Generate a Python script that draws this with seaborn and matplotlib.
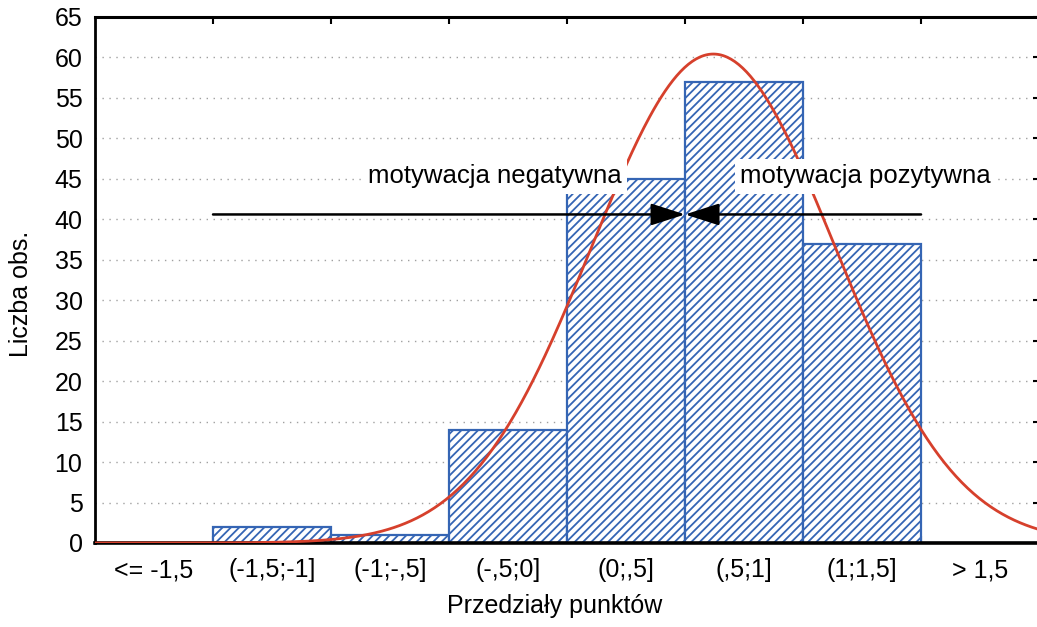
import numpy as np
import pandas as pd
import seaborn as sns
import matplotlib.pyplot as plt
from matplotlib.ticker import FixedLocator

# ---- data ----
categories = ["<= -1,5", "(-1,5;-1]", "(-1;-,5]", "(-,5;0]",
              "(0;,5]", "(,5;1]", "(1;1,5]", "> 1,5"]
counts = [0, 2, 1, 14, 45, 57, 37, 0]
bin_edges = [-2.0, -1.5, -1.0, -0.5, 0.0, 0.5, 1.0, 1.5, 2.0]
fit_mean = 0.62     # fitted normal curve parameters
fit_sd = 0.515
y_ticks = list(range(0, 70, 5))
arrow_y = 40.6
label_y = 45.3
label_neg = "motywacja negatywna"
label_pos = "motywacja pozytywna"

BLUE = "#3565b4"
RED = "#d6402c"

sns.set_theme(style="white")
plt.rcParams['font.family'] = ['Liberation Sans', 'DejaVu Sans']
plt.rcParams['hatch.color'] = BLUE
plt.rcParams['hatch.linewidth'] = 1.3

W, H = 1037, 627
fig = plt.figure(figsize=(W / 100, H / 100), dpi=100)
fig.patch.set_facecolor("white")
ax = fig.add_axes([95 / W, 1 - 543 / H, (W - 95) / W + 0.002, (543 - 17) / H])
ax.set_facecolor("white")

df = pd.DataFrame({"cat": categories, "n": counts})
sns.barplot(data=df, x="cat", y="n", order=categories, width=1.0,
            color="white", saturation=1, edgecolor=BLUE, linewidth=1.6, ax=ax)
for p in ax.patches:
    p.set_facecolor("white")
    p.set_edgecolor(BLUE)
    p.set_hatch("////")
    p.set_zorder(2)

# fitted normal curve scaled to counts
bw = bin_edges[1] - bin_edges[0]
n_total = sum(counts)
xs = np.linspace(bin_edges[0], bin_edges[-1] + 0.1, 500)
ys = n_total * bw / (fit_sd * np.sqrt(2 * np.pi)) * np.exp(-0.5 * ((xs - fit_mean) / fit_sd) ** 2)
pos = (xs - bin_edges[0]) / bw - 0.5
sns.lineplot(x=pos, y=ys, color=RED, lw=2.0, ax=ax, zorder=3, sort=False)

# arrows
mid = 4.5
for start in (0.5, 6.5):
    ax.annotate("", xy=(mid, arrow_y), xytext=(start, arrow_y),
                arrowprops=dict(arrowstyle="-|>,head_length=1.4,head_width=0.45",
                                color="black", lw=1.8, mutation_scale=15,
                                shrinkA=0, shrinkB=0), zorder=4)

bbox = dict(boxstyle="square,pad=0.2", facecolor="white", edgecolor="none")
ax.text(2.89, label_y, label_neg, ha="center", va="center", fontsize=18.5,
        color="black", bbox=bbox, zorder=5)
ax.text(6.03, label_y, label_pos, ha="center", va="center", fontsize=18.5,
        color="black", bbox=bbox, zorder=5)

# axes styling
ax.set_xlim(-0.5, 7.5)
ax.set_ylim(0, 65)
ax.set_yticks(y_ticks)
ax.set_yticklabels([str(t) for t in y_ticks], fontsize=18)
ax.set_xticks(range(len(categories)))
ax.set_xticklabels(categories, fontsize=18)
ax.xaxis.set_minor_locator(FixedLocator([i + 0.5 for i in range(len(categories) - 1)]))
ax.tick_params(axis="x", which="major", length=0, pad=11, colors="black")
ax.tick_params(axis="x", which="minor", length=5, width=1.5, direction="in",
               top=True, bottom=True, color="black")
ax.tick_params(axis="y", which="major", length=4, width=1.5, direction="in",
               left=False, right=True, pad=9, colors="black")
ax.tick_params(axis="y", labelleft=True, labelright=False)

ax.yaxis.grid(True, linestyle=(0, (1, 4)), color="#a0a0a0", lw=1.0)
ax.set_axisbelow(True)

for side in ("left", "top", "bottom"):
    ax.spines[side].set_visible(True)
    ax.spines[side].set_color("black")
ax.spines["left"].set_linewidth(2.0)
ax.spines["top"].set_linewidth(2.2)
ax.spines["bottom"].set_linewidth(2.6)
ax.spines["right"].set_visible(False)

ax.set_xlabel("Przedziały punktów", fontsize=18, color="black")
ax.set_ylabel("Liczba obs.", fontsize=18, color="black")
ax.xaxis.set_label_coords((555 - 95) / 944, -(594 - 543) / 526)
ax.yaxis.set_label_coords(-(95 - 33) / 944, (543 - 294) / 526)

fig.savefig("out.png", dpi=100, facecolor="white")
